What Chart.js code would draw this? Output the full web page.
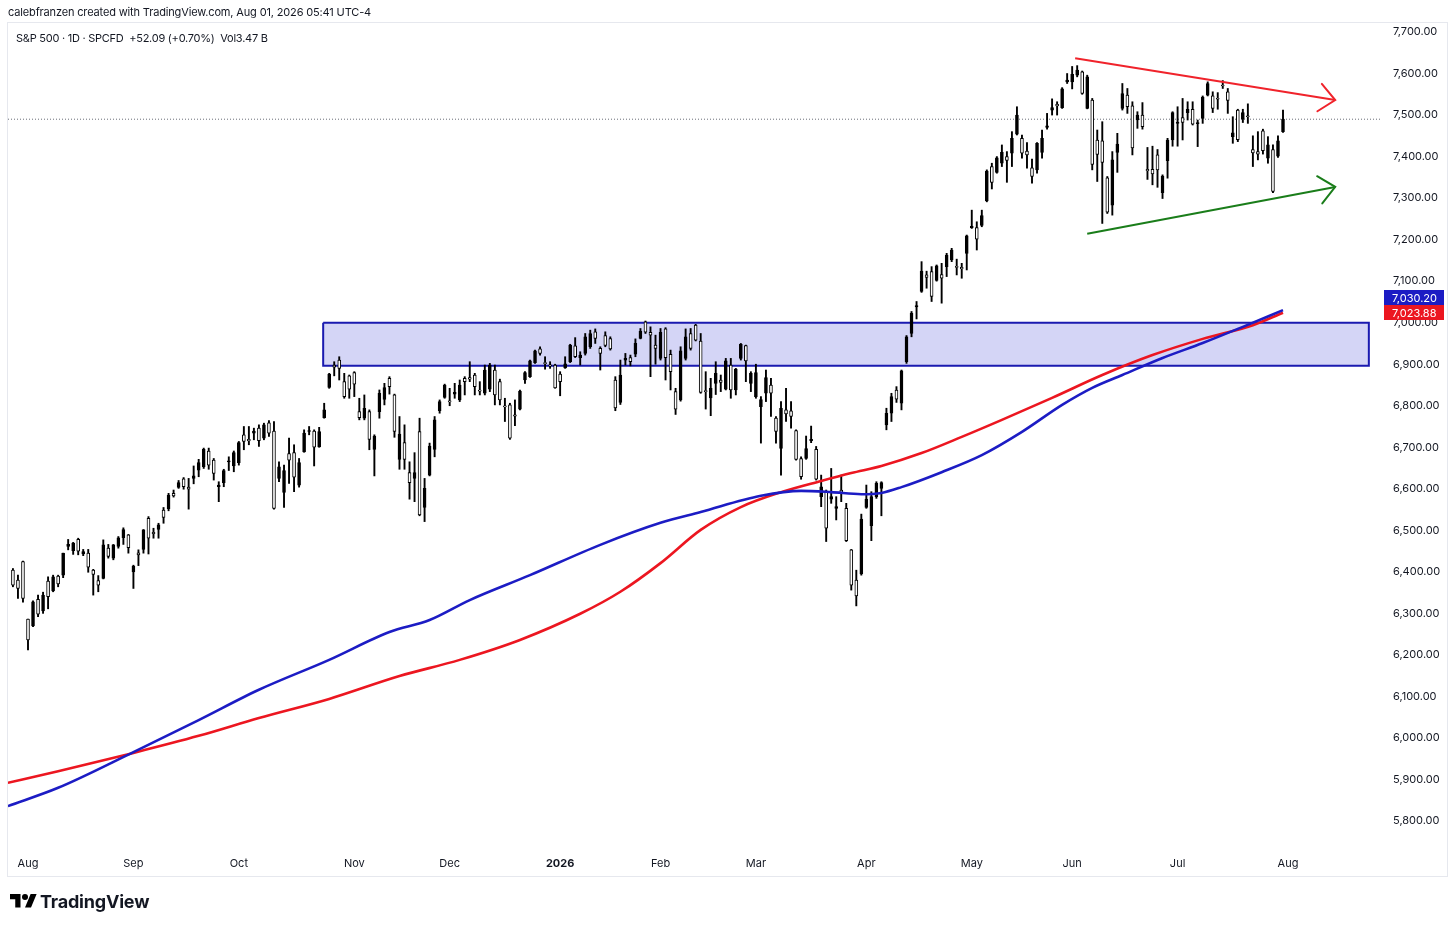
<!DOCTYPE html>
<html>
<head>
<meta charset="utf-8">
<title>S&amp;P 500 · 1D</title>
<script src="https://cdn.jsdelivr.net/npm/chart.js@4.4.1/dist/chart.umd.min.js"></script>
<style>
  html, body { margin: 0; padding: 0; background: #fff; }
  body { width: 1456px; height: 928px; position: relative; overflow: hidden; font-family: Inter, "Noto Sans", sans-serif; color: #131722; }
  #frame { position: absolute; left: 7px; top: 22px; width: 1441px; height: 855px; border: 1px solid #e6e8ee; box-sizing: border-box; }
  #wrap { position: absolute; left: 0; top: 0; width: 1456px; height: 928px; }
  #header { position: absolute; left: 8px; top: 5px; font-size: 11px; letter-spacing: -0.15px; white-space: pre; }
  #legend { position: absolute; left: 16px; top: 31px; font-size: 11px; letter-spacing: -0.25px; white-space: pre; }
  #logo { position: absolute; left: 10px; top: 890px; height: 22px; display: flex; align-items: center; font-weight: 700; font-size: 18px; letter-spacing: -0.2px; }
  #logo svg { margin-right: 3px; }
</style>
</head>
<body>
<div id="frame"></div>
<div id="wrap"><canvas id="chart" width="1456" height="928"></canvas></div>
<div id="header">calebfranzen created with TradingView.com, Aug 01, 2026 05:41 UTC-4</div>
<div id="legend">S&amp;P 500 · 1D · SPCFD  +52.09 (+0.70%)  Vol3.47 B</div>
<div id="logo"><svg width="27" height="21" viewBox="0 0 36 28"><path d="M14 22H7V11H0V4h14v18zM28 22h-8l7.5-18h8L28 22z"/><circle cx="20" cy="8" r="4"/></svg>TradingView</div>
<script>
// daily bars, index 0 = Aug 1 2025 (trading days)
const firstBar = -3;
const opens = [6404, 6380, 6425,
  6286, 6270, 6334, 6306, 6378, 6354, 6390, 6392, 6461, 6451,
  6478, 6443, 6445, 6404, 6379, 6384, 6457, 6433, 6461, 6482,
  6489, 6400, 6446, 6454, 6529, 6495, 6502, 6549, 6552, 6589,
  6603, 6624, 6604, 6625, 6645, 6653, 6691, 6669, 6605, 6615,
  6665, 6655, 6663, 6730, 6719, 6734, 6746, 6722, 6759, 6739,
  6625, 6591, 6685, 6687, 6609, 6689, 6738, 6739, 6701, 6771,
  6844, 6898, 6910, 6858, 6872, 6880, 6786, 6770, 6786, 6695,
  6786, 6815, 6866, 6826, 6671, 6711, 6639, 6625, 6738, 6555,
  6633, 6695, 6788, 6820, 6812, 6828, 6814, 6866, 6868, 6874,
  6838, 6830, 6840, 6886, 6858, 6800, 6802, 6778, 6792, 6862,
  6870, 6904, 6937, 6904, 6898, 6898, 6876, 6891, 6906, 6944,
  6916, 6926, 6942, 6978, 6938, 6969, 6962, 6862, 6808, 6910,
  6916, 6924, 6962, 7002, 6977, 6946, 6914, 6985, 6924, 6834,
  6814, 6914, 6974, 6994, 6956, 6836, 6819, 6854, 6862, 6840,
  6898, 6838, 6914, 6945, 6854, 6822, 6798, 6830, 6850, 6770,
  6697, 6790, 6788, 6740, 6673, 6673, 6716, 6695, 6581, 6593,
  6575, 6553, 6597, 6553, 6453, 6380, 6395, 6555, 6511, 6581,
  6601, 6754, 6782, 6838, 6806, 6906, 6974, 7038, 7075, 7115,
  7123, 7102, 7116, 7135, 7151, 7136, 7133, 7167, 7229, 7229,
  7234, 7293, 7376, 7362, 7384, 7400, 7408, 7454, 7444, 7413,
  7373, 7368, 7410, 7470, 7512, 7526, 7518, 7580, 7580, 7596,
  7604, 7516, 7536, 7440, 7438, 7349, 7283, 7410, 7516, 7548,
  7522, 7488, 7500, 7369, 7369, 7404, 7313, 7390, 7440, 7480,
  7494, 7506, 7514, 7479, 7492, 7548, 7546, 7540, 7572, 7556,
  7448, 7512, 7490, 7497, 7417, 7412, 7462, 7396, 7417, 7401,
  7460];
const highs = [6408, 6392, 6426,
  6286, 6330, 6344, 6351, 6388, 6392, 6392, 6445, 6478, 6471,
  6481, 6454, 6454, 6406, 6391, 6477, 6466, 6466, 6485, 6506,
  6490, 6416, 6453, 6502, 6533, 6505, 6517, 6555, 6589, 6597,
  6620, 6627, 6625, 6655, 6671, 6698, 6698, 6673, 6617, 6647,
  6677, 6691, 6714, 6750, 6750, 6746, 6754, 6758, 6764, 6762,
  6665, 6657, 6722, 6706, 6673, 6742, 6750, 6742, 6748, 6806,
  6878, 6906, 6918, 6878, 6874, 6882, 6818, 6826, 6790, 6730,
  6838, 6854, 6870, 6828, 6774, 6754, 6665, 6687, 6770, 6625,
  6710, 6774, 6814, 6852, 6842, 6854, 6862, 6870, 6906, 6878,
  6858, 6898, 6902, 6898, 6864, 6818, 6806, 6814, 6838, 6882,
  6910, 6934, 6942, 6918, 6906, 6900, 6882, 6918, 6948, 6964,
  6930, 6974, 6982, 6985, 6942, 6978, 6966, 6870, 6910, 6926,
  6922, 6961, 6986, 7004, 6990, 6970, 6986, 6988, 6934, 6842,
  6942, 6985, 6986, 6996, 6974, 6882, 6866, 6906, 6874, 6914,
  6914, 6890, 6950, 6946, 6882, 6900, 6822, 6886, 6866, 6774,
  6810, 6842, 6810, 6742, 6677, 6727, 6751, 6702, 6633, 6597,
  6649, 6581, 6633, 6565, 6454, 6404, 6539, 6609, 6593, 6617,
  6617, 6794, 6830, 6846, 6886, 6969, 7027, 7051, 7147, 7124,
  7135, 7139, 7143, 7167, 7179, 7153, 7143, 7211, 7271, 7243,
  7271, 7368, 7384, 7400, 7428, 7412, 7460, 7520, 7452, 7434,
  7394, 7434, 7464, 7504, 7539, 7532, 7566, 7600, 7617, 7619,
  7606, 7596, 7540, 7464, 7484, 7352, 7412, 7456, 7576, 7564,
  7532, 7508, 7530, 7422, 7425, 7417, 7356, 7444, 7508, 7520,
  7540, 7532, 7532, 7488, 7546, 7580, 7556, 7554, 7583, 7564,
  7496, 7514, 7514, 7527, 7450, 7460, 7466, 7448, 7428, 7450,
  7512];
const lows = [6364, 6336, 6327,
  6212, 6268, 6292, 6300, 6311, 6352, 6364, 6386, 6453, 6442,
  6441, 6439, 6399, 6344, 6352, 6383, 6433, 6429, 6457, 6466,
  6445, 6360, 6415, 6445, 6443, 6481, 6481, 6517, 6547, 6580,
  6601, 6599, 6551, 6612, 6629, 6649, 6647, 6621, 6569, 6605,
  6644, 6641, 6657, 6694, 6706, 6718, 6702, 6718, 6726, 6551,
  6617, 6555, 6613, 6593, 6604, 6688, 6730, 6655, 6700, 6770,
  6842, 6872, 6862, 6818, 6818, 6822, 6766, 6766, 6694, 6631,
  6770, 6802, 6828, 6724, 6647, 6647, 6575, 6569, 6535, 6521,
  6631, 6677, 6782, 6818, 6800, 6818, 6810, 6826, 6858, 6826,
  6826, 6826, 6834, 6802, 6802, 6762, 6719, 6752, 6790, 6854,
  6868, 6902, 6922, 6888, 6890, 6842, 6824, 6890, 6904, 6916,
  6898, 6922, 6938, 6950, 6886, 6942, 6934, 6788, 6803, 6898,
  6896, 6918, 6961, 6974, 6870, 6900, 6910, 6862, 6838, 6779,
  6811, 6910, 6934, 6956, 6830, 6792, 6776, 6827, 6834, 6838,
  6818, 6826, 6910, 6858, 6834, 6818, 6710, 6810, 6774, 6710,
  6633, 6762, 6746, 6669, 6623, 6671, 6711, 6621, 6557, 6473,
  6565, 6525, 6569, 6473, 6356, 6318, 6392, 6553, 6475, 6577,
  6535, 6742, 6762, 6808, 6790, 6902, 6966, 7009, 7073, 7083,
  7051, 7100, 7047, 7111, 7147, 7115, 7107, 7127, 7227, 7175,
  7231, 7291, 7322, 7360, 7376, 7338, 7376, 7452, 7396, 7372,
  7336, 7360, 7396, 7466, 7500, 7500, 7516, 7576, 7563, 7592,
  7550, 7515, 7368, 7340, 7239, 7263, 7259, 7362, 7512, 7504,
  7404, 7468, 7466, 7345, 7332, 7326, 7299, 7348, 7425, 7425,
  7440, 7488, 7476, 7424, 7480, 7546, 7506, 7514, 7564, 7504,
  7432, 7436, 7482, 7480, 7376, 7392, 7406, 7384, 7313, 7398,
  7458];
const closes = [6368, 6360, 6336,
  6236, 6328, 6298, 6344, 6340, 6388, 6371, 6445, 6466, 6469,
  6450, 6449, 6411, 6394, 6368, 6465, 6437, 6465, 6482, 6502,
  6458, 6414, 6441, 6501, 6481, 6492, 6513, 6531, 6585, 6583,
  6615, 6605, 6599, 6631, 6663, 6695, 6657, 6637, 6609, 6644,
  6667, 6687, 6711, 6714, 6715, 6739, 6716, 6754, 6734, 6553,
  6653, 6644, 6669, 6628, 6663, 6734, 6740, 6700, 6738, 6790,
  6876, 6893, 6890, 6822, 6840, 6852, 6771, 6794, 6719, 6727,
  6830, 6844, 6846, 6738, 6732, 6671, 6615, 6639, 6537, 6601,
  6703, 6766, 6810, 6850, 6809, 6832, 6850, 6858, 6864, 6846,
  6835, 6886, 6898, 6826, 6814, 6797, 6722, 6775, 6835, 6880,
  6908, 6932, 6926, 6901, 6896, 6843, 6858, 6901, 6946, 6918,
  6922, 6966, 6974, 6962, 6926, 6945, 6937, 6795, 6874, 6914,
  6906, 6950, 6980, 6977, 6970, 6938, 6977, 6916, 6882, 6792,
  6932, 6966, 6938, 6958, 6832, 6834, 6842, 6878, 6856, 6908,
  6838, 6888, 6948, 6908, 6878, 6880, 6815, 6868, 6830, 6738,
  6794, 6780, 6774, 6671, 6629, 6697, 6719, 6623, 6605, 6505,
  6581, 6557, 6591, 6475, 6368, 6342, 6527, 6575, 6581, 6613,
  6615, 6782, 6822, 6816, 6884, 6966, 7023, 7041, 7124, 7109,
  7063, 7137, 7107, 7163, 7175, 7133, 7130, 7209, 7232, 7201,
  7258, 7365, 7338, 7397, 7410, 7391, 7444, 7500, 7408, 7404,
  7352, 7432, 7444, 7474, 7518, 7522, 7563, 7584, 7598, 7608,
  7552, 7592, 7381, 7405, 7386, 7266, 7392, 7430, 7552, 7520,
  7421, 7500, 7472, 7366, 7358, 7368, 7353, 7440, 7506, 7483,
  7482, 7514, 7478, 7482, 7543, 7576, 7516, 7538, 7570, 7535,
  7457, 7441, 7506, 7496, 7409, 7406, 7414, 7428, 7316, 7438,
  7490];

const monthBars = [0, 21, 42, 65, 84, 106, 126, 145, 167, 188, 208, 229, 251];
const monthLabels = ["Aug", "Sep", "Oct", "Nov", "Dec", "2026", "Feb", "Mar", "Apr", "May", "Jun", "Jul", "Aug"];
const priceTicks = [5800, 5900, 6000, 6100, 6200, 6300, 6400, 6500, 6600, 6700,
  6800, 6900, 7000, 7100, 7200, 7300, 7400, 7500, 7600, 7700];

// moving averages
const blueMaBars = [-4, 6, 21, 34, 46, 60, 72, 80, 88, 100, 114, 126, 134, 146, 154, 160, 166, 170, 174, 182, 190, 198, 206, 212, 218, 226, 234, 242, 250];
const blueMa = [5836, 5880, 5966, 6043, 6116, 6188, 6255, 6284, 6332, 6392, 6465, 6518, 6544, 6583, 6595, 6592, 6587, 6590, 6604, 6640, 6681, 6737, 6802, 6843, 6874, 6915, 6951, 6990, 7030.20];
const redMaBars = [-4, 6, 21, 34, 46, 60, 74, 86, 98, 110, 118, 126, 134, 142, 150, 158, 164, 170, 178, 186, 194, 204, 214, 224, 234, 244, 250];
const redMa = [5892, 5920, 5964, 6005, 6048, 6094, 6149, 6188, 6236, 6299, 6352, 6421, 6501, 6556, 6592, 6619, 6638, 6655, 6686, 6725, 6766, 6819, 6874, 6922, 6961, 6994, 7023.88];

// drawings
const zoneBars = [58.8, 267.1];
const zonePrices = [6896, 7000];
const resistanceBars = [208.6, 260.4];
const resistance = [7637, 7536];
const supportBars = [211, 260.4];
const support = [7214, 7327];

const xMin = -3.984, xMax = 269.72;
const blue = "#1c1cc4", red = "#ec1620", green = "#1a7d1a";

function pts(xs, ys) {
    return xs.map((x, k) => ({ x: x, y: ys[k] }));
}

function fmt(v) {
    return v.toLocaleString("en-US", { minimumFractionDigits: 2, maximumFractionDigits: 2 });
}

const bars = opens.map((o, k) => k + firstBar);
const lastClose = closes[closes.length - 1];

const arrowHeads = {
    id: "arrowHeads",
    afterDatasetsDraw(chart) {
        const ctx = chart.ctx;
        [2, 3].forEach(di => {
            const els = chart.getDatasetMeta(di).data;
            const a = els[0], b = els[els.length - 1];
            const ang = Math.atan2(b.y - a.y, b.x - a.x);
            ctx.save();
            ctx.strokeStyle = chart.data.datasets[di].borderColor;
            ctx.lineWidth = 2;
            ctx.lineCap = "round";
            ctx.beginPath();
            ctx.moveTo(b.x - 21 * Math.cos(ang - 0.72), b.y - 21 * Math.sin(ang - 0.72));
            ctx.lineTo(b.x, b.y);
            ctx.lineTo(b.x - 21 * Math.cos(ang + 0.72), b.y - 21 * Math.sin(ang + 0.72));
            ctx.stroke();
            ctx.restore();
        });
    }
};

const maTags = {
    id: "maTags",
    afterDraw(chart) {
        const { ctx, chartArea, scales } = chart;
        const h = 15;
        const redV = redMa[redMa.length - 1], blueV = blueMa[blueMa.length - 1];
        const redY = scales.y.getPixelForValue(redV);
        const blueY = Math.min(scales.y.getPixelForValue(blueV), redY - h);
        [[blueY, blue, blueV], [redY, red, redV]].forEach(([y, col, v]) => {
            ctx.save();
            ctx.fillStyle = col;
            ctx.fillRect(chartArea.right + 2, Math.round(y - h / 2), 60, h);
            ctx.fillStyle = "#fff";
            ctx.font = "11px Inter, 'Noto Sans', sans-serif";
            ctx.textBaseline = "middle";
            ctx.fillText(fmt(v), chartArea.right + 10, y + 0.5);
            ctx.restore();
        });
    }
};

new Chart(document.getElementById("chart"), {
    type: "bar",
    data: {
        datasets: [
            {
                type: "line", data: pts(blueMaBars, blueMa), borderColor: blue, borderWidth: 2.6,
                pointRadius: 0, cubicInterpolationMode: "monotone", order: 0
            },
            {
                type: "line", data: pts(redMaBars, redMa), borderColor: red, borderWidth: 2.6,
                pointRadius: 0, cubicInterpolationMode: "monotone", order: 1
            },
            {
                type: "line", data: pts(resistanceBars, resistance), borderColor: "#f0232b", borderWidth: 2,
                pointRadius: 0, order: 0
            },
            {
                type: "line", data: pts(supportBars, support), borderColor: green, borderWidth: 2,
                pointRadius: 0, order: 0
            },
            {
                type: "bar", grouped: false, barThickness: 3, minBarLength: 1,
                data: bars.map((x, k) => ({ x: x, y: [opens[k], closes[k]] })),
                backgroundColor: c => closes[c.dataIndex] >= opens[c.dataIndex] ? "#000" : "#fff",
                borderColor: "#000", borderWidth: 1, borderSkipped: false, order: 3
            },
            {
                type: "bar", grouped: false, barThickness: 1.25, minBarLength: 1,
                data: bars.map((x, k) => ({ x: x, y: [lows[k], highs[k]] })),
                backgroundColor: "#000", borderWidth: 0, order: 4
            },
            {
                type: "line", data: [{ x: xMin, y: lastClose }, { x: xMax, y: lastClose }],
                borderColor: "#6a6d78", borderWidth: 1, borderDash: [1, 2], pointRadius: 0, order: 5
            },
            {
                type: "line",
                data: pts([zoneBars[0], zoneBars[1], zoneBars[1], zoneBars[0], zoneBars[0]],
                          [zonePrices[1], zonePrices[1], zonePrices[0], zonePrices[0], zonePrices[1]]),
                borderColor: "#1a1ab0", borderWidth: 2, backgroundColor: "rgba(40, 44, 210, 0.2)",
                fill: "shape", pointRadius: 0, tension: 0, order: 6
            }
        ]
    },
    options: {
        responsive: false,
        animation: false,
        devicePixelRatio: 1,
        layout: { padding: { left: 8, top: 22, right: 0, bottom: 0 } },
        plugins: { legend: { display: false }, tooltip: { enabled: false } },
        events: [],
        scales: {
            x: {
                type: "linear", min: xMin, max: xMax, offset: false,
                grid: { display: false, drawTicks: false }, border: { display: false },
                afterBuildTicks: s => { s.ticks = monthBars.map(v => ({ value: v })); },
                afterFit: s => { s.height = 80; },
                ticks: {
                    autoSkip: false, maxRotation: 0, padding: 9, color: "#131722",
                    font: c => ({ family: "Inter, 'Noto Sans', sans-serif", size: 11, weight: c.tick && c.tick.value === 106 ? "bold" : "normal" }),
                    callback: v => monthLabels[monthBars.indexOf(v)]
                }
            },
            y: {
                type: "linear", position: "right", min: 5734.98, max: 7724.08,
                grid: { display: false, drawTicks: false }, border: { display: false },
                afterBuildTicks: s => { s.ticks = priceTicks.map(v => ({ value: v })); },
                afterFit: s => { s.width = 74; },
                ticks: {
                    padding: 11, color: "#131722",
                    font: { family: "Inter, 'Noto Sans', sans-serif", size: 11 },
                    callback: v => fmt(v)
                }
            }
        }
    },
    plugins: [arrowHeads, maTags]
});
</script>
</body>
</html>
